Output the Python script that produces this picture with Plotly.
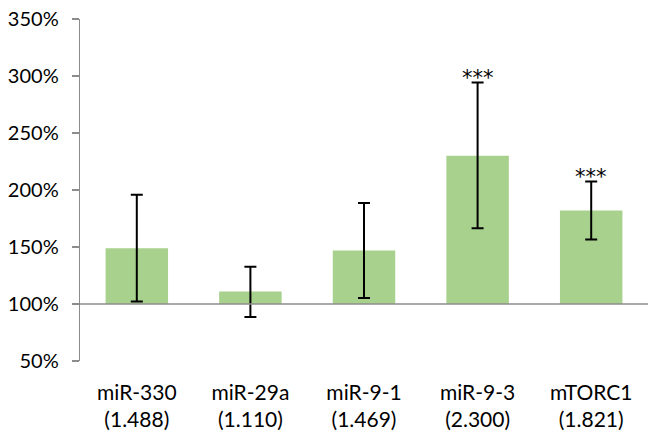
import plotly.graph_objects as go

categories = ["miR-330", "miR-29a", "miR-9-1", "miR-9-3", "mTORC1"]
fold_change = [1.488, 1.110, 1.469, 2.300, 1.821]
err_plus = [0.471, 0.216, 0.417, 0.642, 0.253]
err_minus = [0.465, 0.224, 0.416, 0.635, 0.255]
significance = ["", "", "", "***", "***"]
baseline = 1.0

tick_text = [f"{c}<br>({v:.3f})" for c, v in zip(categories, fold_change)]

FONT = "Lato"

fig = go.Figure()
fig.add_trace(go.Bar(
    x=categories,
    y=[v - baseline for v in fold_change],
    base=baseline,
    marker=dict(color="#A9D18E", line=dict(width=0)),
    error_y=dict(type="data", symmetric=False, array=err_plus, arrayminus=err_minus,
                 color="black", thickness=2, width=6),
    hoverinfo="skip",
))

for c, v, e, s in zip(categories, fold_change, err_plus, significance):
    if s:
        fig.add_annotation(x=c, y=v + e, text=s, showarrow=False, yanchor="bottom",
                           yshift=-9, font=dict(family="DejaVu Sans", size=21, color="black"))

fig.add_shape(type="line", xref="paper", yref="y", x0=0, x1=1, y0=baseline, y1=baseline,
              line=dict(color="#8C8C8C", width=1.3), layer="above")

fig.update_layout(
    width=657, height=440,
    margin=dict(l=80, r=9, t=19, b=79, autoexpand=False),
    paper_bgcolor="white", plot_bgcolor="white",
    bargap=0.45,
    showlegend=False,
    font=dict(family=FONT, size=21, color="black"),
    xaxis=dict(tickmode="array", tickvals=categories, ticktext=tick_text,
               showline=False, showgrid=False, ticks="", ticklabelstandoff=17,
               automargin=False,
               tickfont=dict(family=FONT, size=21, color="black")),
    yaxis=dict(range=[0.5, 3.5], dtick=0.5, tick0=0.5, tickformat=".0%",
               showgrid=False, zeroline=False, showline=True, linecolor="#8C8C8C",
               linewidth=1.3, ticks="outside", ticklen=7, tickcolor="#8C8C8C",
               tickwidth=1.3, ticklabelstandoff=9, automargin=False,
               ticklabeloverflow="allow",
               tickfont=dict(family=FONT, size=20, color="black")),
)

fig.write_html("out.html",
               config={"displayModeBar": False, "staticPlot": True},
               post_script="document.body.style.margin='0';document.body.style.overflow='hidden';")
